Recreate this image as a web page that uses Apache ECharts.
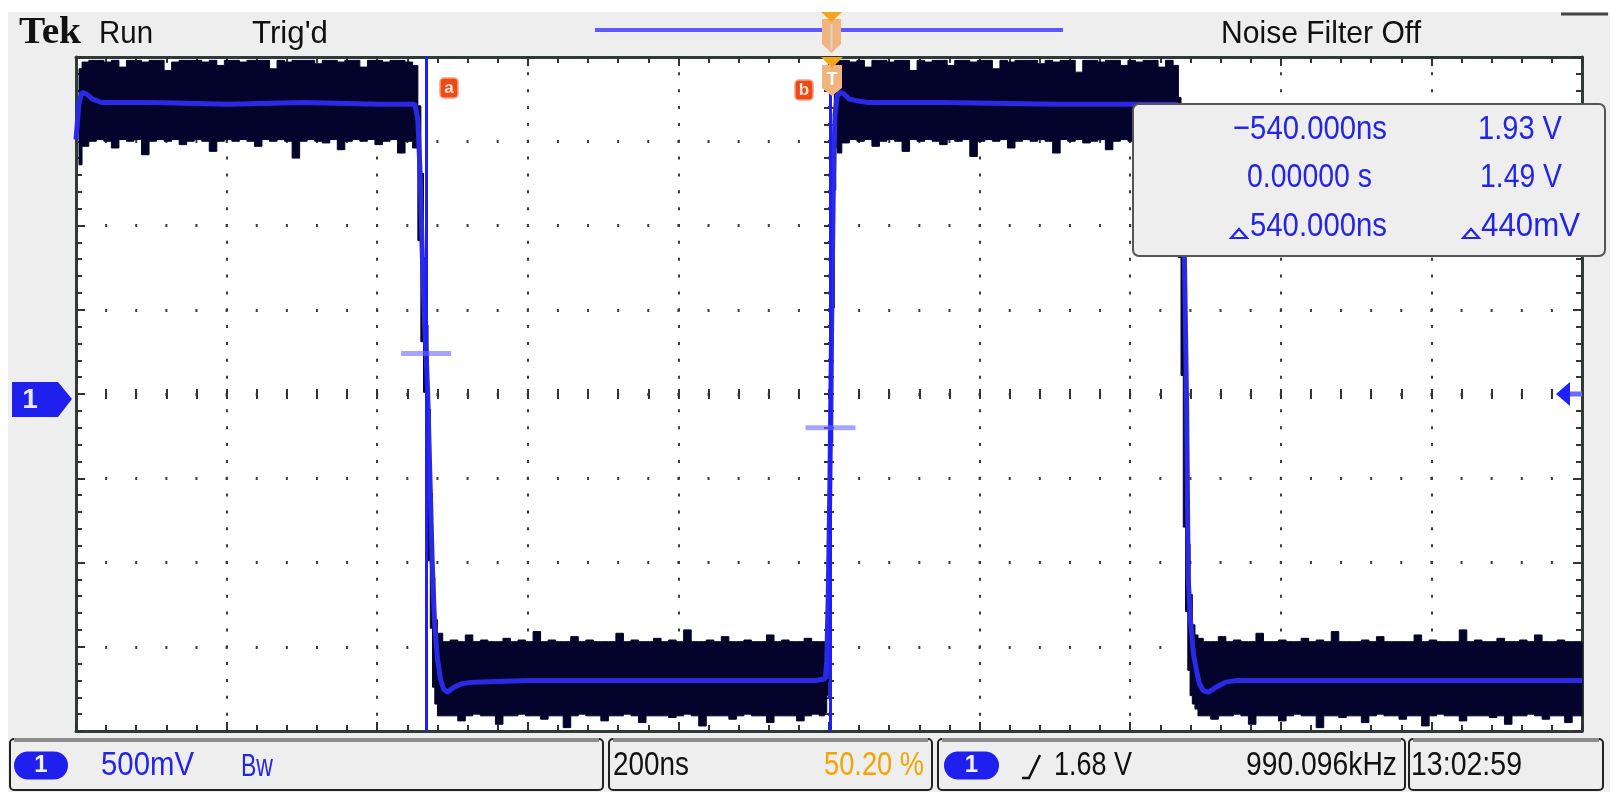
<!DOCTYPE html>
<html><head><meta charset="utf-8">
<script src="https://cdn.jsdelivr.net/npm/echarts@6/dist/echarts.min.js"></script>
<style>html,body{margin:0;padding:0;background:#fff;}#c{width:1618px;height:801px;}</style>
</head><body><div id="c"></div>
<script>
// ---------------- data (time in ns, voltage in V) ----------------
const traceTime = [-1002,-998,-994,-988,-980,-968,-900,-800,-700,-600,-556,
  -552,-548,-545,-542,-539,-537,-535,-532,-529,-526,-522,-518,-514,-509,-500,-490,-475,-400,-300,-200,-100,-20,
  -7,-5,-3,-1,0,2,4,6,9,13,18,25,35,50,150,300,456,
  460,464,467,470,473,475,478,482,486,490,495,502,512,525,540,700,850,998];
const traceVolt = [3.20,3.42,3.48,3.47,3.44,3.42,3.42,3.41,3.42,3.41,3.41,
  3.41,3.32,3.00,2.50,2.10,1.93,1.70,1.20,0.70,0.35,0.12,0.00,-0.06,-0.08,-0.05,-0.03,-0.02,-0.01,-0.01,-0.01,-0.01,-0.01,
  0.00,0.10,0.50,1.10,1.49,2.30,3.00,3.35,3.46,3.48,3.47,3.44,3.43,3.42,3.42,3.41,3.41,
  3.41,3.36,3.10,2.50,1.60,0.60,0.35,0.15,0.05,-0.03,-0.07,-0.08,-0.05,-0.02,-0.01,-0.01,-0.01,-0.01];

// noise envelope (persistence band): time, upper edge, lower edge
const envTime = [-998,-990,-980,-970,-960,-950,-940,-930,-920,-910,-900,-890,-880,-870,-860,-850,-840,-830,-820,-810,-800,-790,-780,-770,-760,-750,-740,-730,-720,-710,-700,-690,-680,-670,-660,-650,-640,-630,-620,-610,-600,-590,-580,-570,-560,-550,
  -546,-542,-539,-536,-533,-530,-527,-524,-520,
  -510,-500,-490,-480,-470,-460,-450,-440,-430,-420,-410,-400,-390,-380,-370,-360,-350,-340,-330,-320,-310,-300,-290,-280,-270,-260,-250,-240,-230,-220,-210,-200,-190,-180,-170,-160,-150,-140,-130,-120,-110,-100,-90,-80,-70,-60,-50,-40,-30,-20,-10,
  -6,-4,-2,0,2,4,6,8,
  10,20,30,40,50,60,70,80,90,100,110,120,130,140,150,160,170,180,190,200,210,220,230,240,250,260,270,280,290,300,310,320,330,340,350,360,370,380,390,400,410,420,430,440,450,460,
  464,467,470,473,476,479,482,486,490,
  500,510,520,530,540,550,560,570,580,590,600,610,620,630,640,650,660,670,680,690,700,710,720,730,740,750,760,770,780,790,800,810,820,830,840,850,860,870,880,890,900,910,920,930,940,950,960,970,980,990,998];
const envHigh = [
  3.62,3.66,3.67,3.67,3.66,3.67,3.63,3.67,3.67,3.66,3.67,3.67,3.61,3.66,3.67,3.67,3.67,3.66,3.67,3.64,3.67,3.67,3.66,3.67,3.67,3.67,3.62,3.67,3.66,3.67,3.67,3.67,3.65,3.67,3.67,3.66,3.67,3.67,3.63,3.67,3.67,3.66,3.67,3.67,3.66,3.64,
  3.40,3.00,2.50,2.10,1.60,1.10,0.60,0.35,0.27,
  0.22,0.23,0.22,0.26,0.22,0.23,0.22,0.22,0.24,0.22,0.23,0.22,0.28,0.22,0.23,0.22,0.22,0.25,0.22,0.23,0.22,0.22,0.22,0.27,0.22,0.23,0.22,0.22,0.24,0.22,0.23,0.22,0.29,0.22,0.22,0.23,0.22,0.25,0.22,0.22,0.23,0.22,0.22,0.26,0.22,0.23,0.22,0.22,0.24,0.22,0.22,
  0.22,0.50,1.00,1.80,2.60,3.20,3.60,3.69,
  3.67,3.67,3.66,3.67,3.63,3.67,3.67,3.66,3.67,3.67,3.61,3.67,3.66,3.67,3.67,3.64,3.67,3.67,3.66,3.67,3.67,3.62,3.67,3.66,3.67,3.67,3.67,3.65,3.67,3.66,3.67,3.67,3.60,3.67,3.67,3.66,3.67,3.67,3.64,3.67,3.66,3.67,3.67,3.63,3.67,3.64,
  3.45,3.00,2.30,1.40,0.80,0.50,0.32,0.26,0.24,
  0.22,0.22,0.25,0.22,0.23,0.22,0.22,0.27,0.22,0.22,0.23,0.22,0.22,0.24,0.22,0.23,0.22,0.28,0.22,0.22,0.22,0.23,0.22,0.25,0.22,0.22,0.22,0.22,0.26,0.22,0.23,0.22,0.22,0.22,0.29,0.22,0.23,0.22,0.22,0.24,0.22,0.22,0.23,0.22,0.26,0.22,0.22,0.23,0.22,0.22,0.22];
const envLow = [
  3.05,3.16,3.19,3.20,3.19,3.15,3.20,3.19,3.20,3.11,3.19,3.20,3.19,3.20,3.17,3.19,3.20,3.19,3.13,3.19,3.20,3.19,3.20,3.19,3.16,3.20,3.19,3.20,3.19,3.09,3.19,3.20,3.19,3.18,3.20,3.14,3.19,3.20,3.19,3.20,3.17,3.19,3.20,3.12,3.19,3.15,
  2.60,2.00,1.70,1.30,0.70,0.30,-0.05,-0.15,-0.22,
  -0.22,-0.22,-0.25,-0.22,-0.21,-0.22,-0.22,-0.27,-0.22,-0.22,-0.21,-0.22,-0.22,-0.24,-0.22,-0.22,-0.29,-0.22,-0.21,-0.22,-0.22,-0.25,-0.22,-0.22,-0.21,-0.22,-0.26,-0.22,-0.22,-0.22,-0.23,-0.22,-0.21,-0.22,-0.28,-0.22,-0.22,-0.22,-0.24,-0.22,-0.21,-0.22,-0.22,-0.26,-0.22,-0.22,-0.22,-0.25,-0.22,-0.21,-0.22,
  -0.20,-0.10,0.20,0.70,1.40,2.20,2.90,3.15,
  3.12,3.18,3.20,3.19,3.20,3.16,3.19,3.20,3.19,3.13,3.20,3.19,3.20,3.19,3.17,3.20,3.19,3.20,3.10,3.19,3.20,3.19,3.20,3.15,3.19,3.20,3.19,3.20,3.19,3.12,3.20,3.19,3.20,3.18,3.19,3.20,3.14,3.19,3.20,3.19,3.20,3.16,3.19,3.20,3.19,3.08,
  2.50,1.80,0.90,0.40,0.05,-0.10,-0.15,-0.18,-0.22,
  -0.22,-0.24,-0.22,-0.22,-0.21,-0.22,-0.27,-0.22,-0.22,-0.22,-0.25,-0.22,-0.21,-0.22,-0.22,-0.29,-0.22,-0.22,-0.23,-0.22,-0.22,-0.26,-0.22,-0.21,-0.22,-0.22,-0.24,-0.22,-0.22,-0.28,-0.22,-0.21,-0.22,-0.22,-0.25,-0.22,-0.22,-0.22,-0.23,-0.22,-0.27,-0.22,-0.22,-0.21,-0.22,-0.24,-0.22,-0.22,-0.26,-0.22,-0.22];

const cursorTime = [-537, 0];
const cursorVolt = [1.93, 1.49];
const cursorNames = ['a', 'b'];

const headerTexts = ['Tek', 'Run', "Trig'd", 'Noise Filter Off'];
const readoutTimes = ['\u2212540.000ns', '0.00000 s', '540.000ns'];
const readoutVolts = ['1.93 V', '1.49 V', '440mV'];
const statusTexts = ['500mV', 'Bw', '200ns', '50.20 %', '1.68 V', '990.096kHz', '13:02:59'];

// ---------------- chart ----------------
const chart = echarts.init(document.getElementById('c'), null, {renderer: 'canvas'});

const G = {left: 76, top: 57, right: 1582, bottom: 731};
const dotColor = '#3c3c3c';
const borderColor = '#2e3b38';
const divX = (G.right - G.left) / 10, divY = (G.bottom - G.top) / 8;

function divAxisX(pos, opts) {
  return Object.assign({
    type: 'value', min: -5, max: 5, interval: 1, position: pos,
    axisLine: {show: true, onZero: false, lineStyle: {color: borderColor, width: 3}},
    axisTick: {show: true, inside: true, length: 9, lineStyle: {color: '#333', width: 2}},
    minorTick: {show: true, splitNumber: 5, length: 6, lineStyle: {color: '#333', width: 2}},
    axisLabel: {show: false}, splitLine: {show: false}
  }, opts || {});
}
function divAxisY(pos, opts) {
  return Object.assign({
    type: 'value', min: -4, max: 4, interval: 1, position: pos,
    axisLine: {show: true, onZero: false, lineStyle: {color: borderColor, width: 3}},
    axisTick: {show: true, inside: true, length: 9, lineStyle: {color: '#333', width: 2}},
    minorTick: {show: true, splitNumber: 5, length: 6, lineStyle: {color: '#333', width: 2}},
    axisLabel: {show: false}, splitLine: {show: false}
  }, opts || {});
}
const centerTick = {show: true, inside: true, length: 5, lineStyle: {color: '#333', width: 2}};
const centerMinor = {show: true, splitNumber: 5, length: 5, lineStyle: {color: '#333', width: 2}};
const centerLine = {show: true, onZero: true, onZeroAxisIndex: 1, lineStyle: {color: 'rgba(0,0,0,0)', width: 1}};

const option = {
  backgroundColor: '#ffffff',
  animation: false,
  grid: {left: G.left, top: G.top, width: G.right - G.left, height: G.bottom - G.top,
         show: true, backgroundColor: '#ffffff', borderWidth: 0, outerBoundsMode: 'none', containLabel: false},
  xAxis: [
    {type: 'value', min: -1002, max: 998, show: false},
    divAxisX('bottom', {splitLine: {show: true, lineStyle: {color: dotColor, width: 2, type: [3, divY / 5 - 3], dashOffset: 1.5}}}),
    divAxisX('top'),
    divAxisX('bottom', {axisLine: centerLine, axisTick: centerTick, minorTick: centerMinor}),
    divAxisX('top', {axisLine: centerLine, axisTick: centerTick, minorTick: centerMinor})
  ],
  yAxis: [
    {type: 'value', min: -0.31, max: 3.69, show: false},
    divAxisY('left', {splitLine: {show: true, lineStyle: {color: dotColor, width: 3, type: [2, divX / 5 - 2], dashOffset: 1}}}),
    divAxisY('right'),
    divAxisY('left', {axisLine: centerLine, axisTick: centerTick, minorTick: centerMinor}),
    divAxisY('right', {axisLine: centerLine, axisTick: centerTick, minorTick: centerMinor})
  ],
  series: [
    {
      type: 'custom', xAxisIndex: 0, yAxisIndex: 0, z: 2, silent: true,
      data: [[envTime[0], envLow[0]]],
      renderItem: function (params, api) {
        // stepped outline (each sample held around its own time)
        const n = envTime.length;
        const edge = i => (i <= 0 ? envTime[0] : i >= n ? envTime[n - 1] : (envTime[i - 1] + envTime[i]) / 2);
        const pts = [];
        for (let i = 0; i < n; i++) {
          pts.push(api.coord([edge(i), envHigh[i]]));
          pts.push(api.coord([edge(i + 1), envHigh[i]]));
        }
        for (let i = n - 1; i >= 0; i--) {
          pts.push(api.coord([edge(i + 1), envLow[i]]));
          pts.push(api.coord([edge(i), envLow[i]]));
        }
        return {type: 'polygon', shape: {points: pts}, style: {fill: '#03032c', stroke: '#03032c', lineWidth: 1}};
      }
    },
    {
      type: 'line', xAxisIndex: 0, yAxisIndex: 0, z: 3, silent: true,
      data: traceTime.map((t, i) => [t, traceVolt[i]]),
      showSymbol: false, symbol: 'none',
      lineStyle: {color: '#2a2ae6', width: 5}
    },
    {
      type: 'scatter', xAxisIndex: 0, yAxisIndex: 0, z: 5, silent: true,
      data: cursorTime.map((t, i) => [t, cursorVolt[i]]),
      symbol: 'rect', symbolSize: [50, 5],
      itemStyle: {color: 'rgba(105,105,255,0.75)'},
      markLine: {
        silent: true, symbol: ['none', 'none'], label: {show: false},
        lineStyle: {color: '#1d1dff', width: 3, type: 'solid'},
        data: cursorTime.map(t => ({xAxis: t}))
      }
    }
  ],
  graphic: []
};

// ---------------- decorations ----------------
const g = [];
const FONT = 'Liberation Sans, Arial, sans-serif';
const mctx = document.createElement('canvas').getContext('2d');
// text squeezed horizontally to a measured width (the scope font is tall and narrow)
function FT(x, y, s, size, width, color, align, fontFamily, weight) {
  const font = (weight ? weight + ' ' : '') + size + 'px ' + (fontFamily || FONT);
  mctx.font = font;
  const w = mctx.measureText(s).width;
  return {type: 'text', x: x, y: y, z: 60, scaleX: width ? width / w : 1,
    style: {text: s, fill: color || '#111', font: font, align: align || 'left', verticalAlign: 'middle'}};
}
function delta(x, yb, w, h, color) {
  g.push({type: 'polygon', z: 60, shape: {points: [[x, yb], [x + w / 2, yb - h], [x + w, yb]]}, style: {fill: null, stroke: color, lineWidth: 2.2}});
}
// screen background
g.push({type: 'rect', z: -20, shape: {x: 8, y: 12, width: 1602, height: 780}, style: {fill: '#eeeeee'}});
// header
g.push(FT(19, 33, headerTexts[0], 38, 62, '#111', 'left', 'Liberation Serif, serif', 'bold'));
g.push(FT(99, 34, headerTexts[1], 32, 54));
g.push(FT(252, 34, headerTexts[2], 32, 76));
g.push(FT(1221, 34, headerTexts[3], 32, 200));
g.push({type: 'line', z: 30, shape: {x1: 595, y1: 30, x2: 1063, y2: 30}, style: {stroke: '#5a5aff', lineWidth: 4}});
g.push({type: 'line', z: 30, shape: {x1: 1561, y1: 14, x2: 1608, y2: 14}, style: {stroke: '#444', lineWidth: 3}});
// header trigger marker
g.push({type: 'polygon', z: 40, shape: {points: [[821, 12], [842, 12], [831.5, 22]]}, style: {fill: '#f3a51c'}});
g.push({type: 'polygon', z: 39, shape: {points: [[822, 19], [841, 19], [841, 44], [831.5, 53], [822, 44]]}, style: {fill: '#f1b47c'}});
g.push({type: 'line', z: 41, shape: {x1: 831.5, y1: 24, x2: 831.5, y2: 50}, style: {stroke: '#d8d8d8', lineWidth: 2}});
// graticule trigger position marker
g.push({type: 'polygon', z: 40, shape: {points: [[821, 57], [843, 57], [832, 68]]}, style: {fill: '#f3a51c'}});
g.push({type: 'polygon', z: 39, shape: {points: [[822, 65], [842, 65], [842, 88], [832, 96], [822, 88]]}, style: {fill: '#f1b47c'}});
g.push(FT(832, 80, 'T', 18, 0, '#ffffff', 'center', null, 'bold'));
// cursor labels
function cursorLabel(cx, cy, ch) {
  g.push({type: 'rect', z: 45, shape: {x: cx - 9, y: cy - 10, width: 18, height: 20, r: 4}, style: {fill: '#ee4a16', stroke: '#f7a080', lineWidth: 1.5}});
  const t = FT(cx, cy, ch, 17, 0, '#fde0d4', 'center', null, 'bold'); t.z = 46; g.push(t);
}
cursorLabel(449, 88, cursorNames[0]);
cursorLabel(804, 90, cursorNames[1]);
// channel 1 marker (left) and trigger level arrow (right)
g.push({type: 'polygon', z: 40, shape: {points: [[12, 382], [58, 382], [72, 399], [58, 417], [12, 417]]}, style: {fill: '#2020ee'}});
g.push(FT(30, 400, '1', 28, 0, '#e8e8ff', 'center', null, 'bold'));
g.push({type: 'line', z: 40, shape: {x1: 1566, y1: 394, x2: 1582, y2: 394}, style: {stroke: '#6b6bff', lineWidth: 5}});
g.push({type: 'polygon', z: 41, shape: {points: [[1556, 394], [1570, 382], [1570, 406]]}, style: {fill: '#2020ff'}});
// cursor readout box
g.push({type: 'rect', z: 50, shape: {x: 1133, y: 104, width: 472, height: 152, r: 6}, style: {fill: '#eeeeee', stroke: '#555', lineWidth: 2}});
const rowY = [130, 178, 227];
const BLUE = '#2424e8';
cursorLabel(1187, rowY[0], cursorNames[0]);
cursorLabel(1187, rowY[1], cursorNames[1]);
g.push(FT(1233, rowY[0], readoutTimes[0], 34, 154, BLUE));
g.push(FT(1247, rowY[1], readoutTimes[1], 34, 125, BLUE));
delta(1231, rowY[2] + 11, 16, 9, BLUE);
g.push(FT(1250, rowY[2], readoutTimes[2], 34, 137, BLUE));
g.push(FT(1478, rowY[0], readoutVolts[0], 34, 84, BLUE));
g.push(FT(1480, rowY[1], readoutVolts[1], 34, 82, BLUE));
delta(1463, rowY[2] + 11, 16, 9, BLUE);
g.push(FT(1481, rowY[2], readoutVolts[2], 34, 99, BLUE));
// status bar
const SB = {top: 739, bottom: 790};
function sbox(x1, x2) {
  g.push({type: 'rect', z: 20, shape: {x: x1, y: SB.top, width: x2 - x1, height: SB.bottom - SB.top, r: 4}, style: {fill: '#eeeeee', stroke: '#222', lineWidth: 2}});
  g.push({type: 'line', z: 21, shape: {x1: x1 + 4, y1: SB.top + 1, x2: x2 - 4, y2: SB.top + 1}, style: {stroke: '#8c8c8c', lineWidth: 4}});
}
sbox(10, 603); sbox(609, 932); sbox(938, 1405); sbox(1409, 1603);
const sy = (SB.top + SB.bottom) / 2 + 1;
function pill(x1, x2) {
  g.push({type: 'rect', z: 25, shape: {x: x1, y: sy - 14, width: x2 - x1, height: 28, r: 14}, style: {fill: '#2020ee'}});
  const t = FT((x1 + x2) / 2, sy, '1', 24, 0, '#f0f0ff', 'center', null, 'bold'); t.z = 26; g.push(t);
}
pill(14, 68);
g.push(FT(101, sy, statusTexts[0], 34, 93, BLUE));
g.push(FT(241, sy + 2, statusTexts[1], 32, 32, BLUE));
g.push(FT(613, sy, statusTexts[2], 34, 76, '#111'));
g.push(FT(824, sy, statusTexts[3], 34, 100, '#f5a300'));
pill(944, 999);
g.push({type: 'polyline', z: 26, shape: {points: [[1022, 778], [1029, 778], [1040, 755]]}, style: {stroke: '#111', lineWidth: 2.5, fill: null}});
g.push(FT(1054, sy, statusTexts[4], 34, 78, '#111'));
g.push(FT(1246, sy, statusTexts[5], 34, 151, '#111'));
g.push(FT(1411, sy, statusTexts[6], 34, 111, '#111'));

option.graphic = g;
chart.setOption(option);
</script>
</body></html>
